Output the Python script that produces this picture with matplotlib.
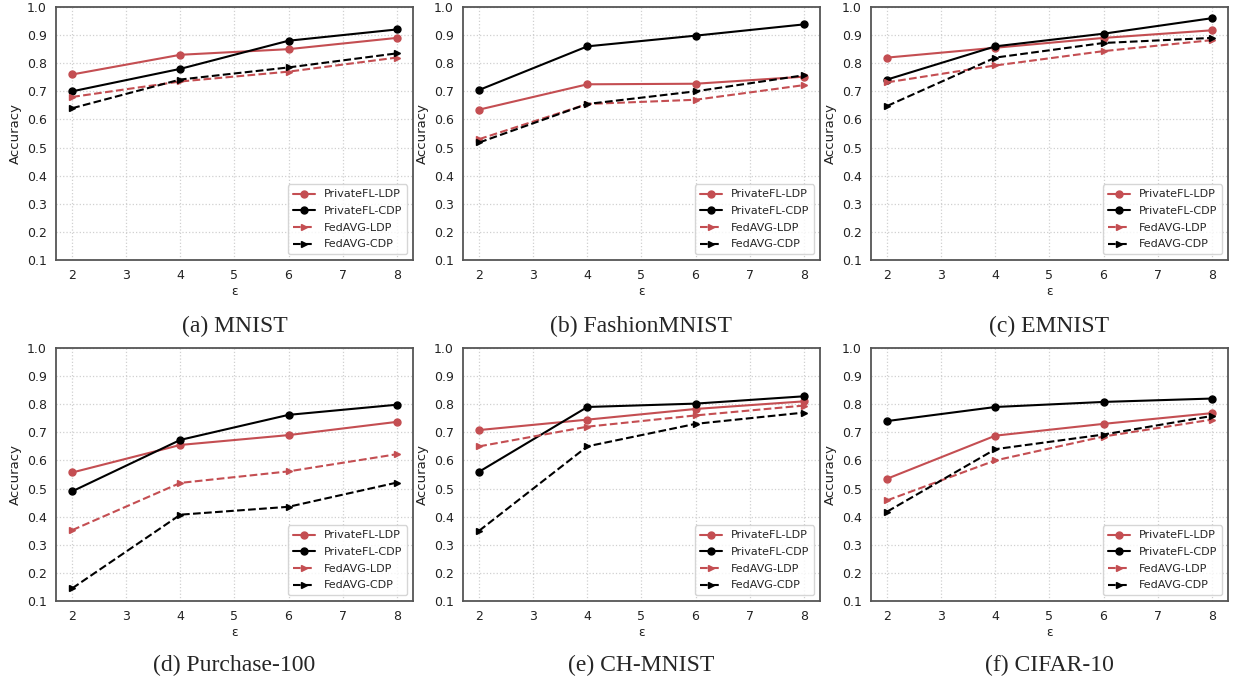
import matplotlib
matplotlib.use("Agg")
import matplotlib.pyplot as plt
import seaborn as sns

sns.set_style("whitegrid")
plt.rcParams['font.family'] = ['DejaVu Sans']

# epsilon values
eps = [2, 4, 6, 8]

datasets = ['(a) MNIST', '(b) FashionMNIST', '(c) EMNIST',
            '(d) Purchase-100', '(e) CH-MNIST', '(f) CIFAR-10']

privatefl_ldp = [
    [0.76, 0.83, 0.85, 0.89],
    [0.635, 0.725, 0.727, 0.752],
    [0.82, 0.855, 0.89, 0.917],
    [0.557, 0.655, 0.69, 0.737],
    [0.708, 0.745, 0.783, 0.81],
    [0.535, 0.688, 0.73, 0.768],
]
privatefl_cdp = [
    [0.70, 0.78, 0.88, 0.92],
    [0.705, 0.86, 0.898, 0.938],
    [0.742, 0.86, 0.905, 0.96],
    [0.49, 0.673, 0.762, 0.798],
    [0.56, 0.79, 0.802, 0.828],
    [0.74, 0.79, 0.808, 0.82],
]
fedavg_ldp = [
    [0.68, 0.735, 0.77, 0.82],
    [0.53, 0.655, 0.67, 0.722],
    [0.732, 0.792, 0.843, 0.882],
    [0.352, 0.52, 0.561, 0.622],
    [0.65, 0.72, 0.76, 0.795],
    [0.458, 0.60, 0.685, 0.745],
]
fedavg_cdp = [
    [0.64, 0.742, 0.785, 0.835],
    [0.518, 0.655, 0.70, 0.757],
    [0.648, 0.82, 0.872, 0.89],
    [0.145, 0.407, 0.435, 0.521],
    [0.35, 0.65, 0.73, 0.77],
    [0.418, 0.64, 0.692, 0.758],
]

red = '#c44e52'

fig = plt.figure(figsize=(12.33, 6.78), dpi=100)

lefts = [0.0454, 0.3755, 0.7064]
bottoms = [0.6165, 0.1136]
caption_y = [0.5185, 0.0180]
w, h = 0.2895, 0.3732

for i, name in enumerate(datasets):
    row, col = divmod(i, 3)
    ax = fig.add_axes([lefts[col], bottoms[row], w, h])
    ax.plot(eps, privatefl_ldp[i], color=red, marker='o', ms=5, lw=1.5, label='PrivateFL-LDP')
    ax.plot(eps, privatefl_cdp[i], color='black', marker='o', ms=5, lw=1.5, label='PrivateFL-CDP')
    ax.plot(eps, fedavg_ldp[i], color=red, marker='>', ms=5, lw=1.5, ls='--', label='FedAVG-LDP')
    ax.plot(eps, fedavg_cdp[i], color='black', marker='>', ms=5, lw=1.5, ls='--', label='FedAVG-CDP')

    ax.set_xlim(1.7, 8.3)
    ax.set_ylim(0.1, 1.0)
    ax.set_xticks([2, 3, 4, 5, 6, 7, 8])
    ax.set_yticks([0.1, 0.2, 0.3, 0.4, 0.5, 0.6, 0.7, 0.8, 0.9, 1.0])
    ax.tick_params(labelsize=9, colors='#222222', pad=3)
    ax.grid(True, ls=':', color='#d0d0d0', lw=0.9)
    for s in ax.spines.values():
        s.set_color('#555555')
        s.set_linewidth(1.3)
    ax.set_xlabel('ε', fontsize=9, color='#222222', labelpad=2)
    ax.set_ylabel('Accuracy', fontsize=9.5, color='#222222', labelpad=4)
    ax.legend(loc='lower right', fontsize=8, frameon=True, handlelength=2.0,
              borderpad=0.45, labelspacing=0.6)

    fig.text(lefts[col] + w / 2, caption_y[row], name, ha='center', va='center',
             fontsize=17, family='Liberation Serif')

fig.savefig('out.png', dpi=100)
